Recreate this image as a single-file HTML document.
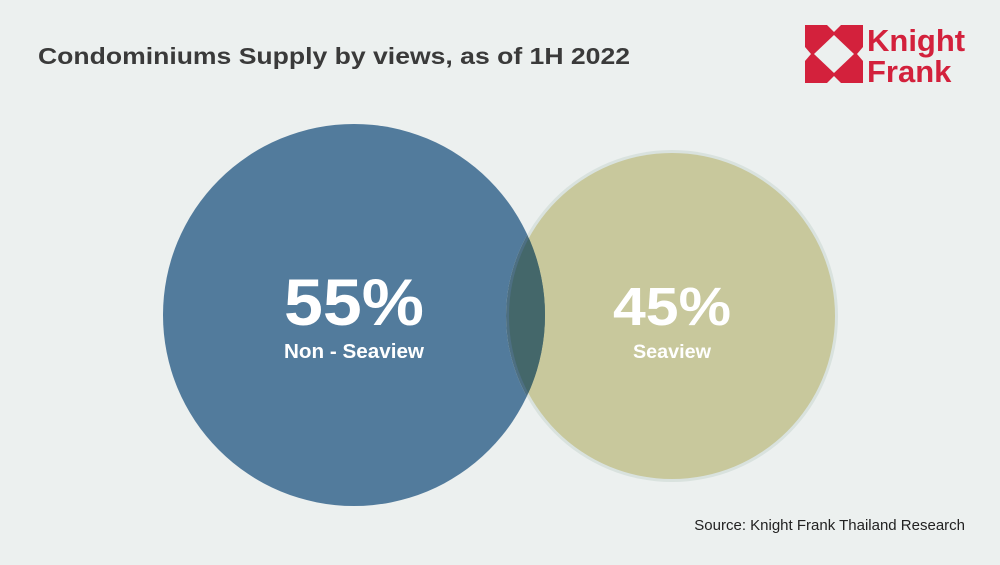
<!DOCTYPE html>
<html><head><meta charset="utf-8"><style>
html,body{margin:0;padding:0;background:#ecf0ef;}
svg{display:block;}
text{font-family:"Liberation Sans",sans-serif;}
</style></head><body>
<svg width="1000" height="565" viewBox="0 0 1000 565">
<rect width="1000" height="565" fill="#ecf0ef"/>
<text x="38" y="64" font-size="23" font-weight="bold" fill="#3a3a3a" textLength="592" lengthAdjust="spacingAndGlyphs">Condominiums Supply by views, as of 1H 2022</text>
<rect x="805" y="25" width="58" height="58" fill="#d3213c"/>
<g fill="#ecf0ef">
<polygon points="834,35 854,54 834,73 814,54"/>
<polygon points="827,25 841,25 834,32"/>
<polygon points="827,83 841,83 834,76"/>
<polygon points="805,47 805,61 811,54"/>
<polygon points="863,47 863,61 857,54"/>
</g>
<text x="867" y="51" font-size="31" font-weight="bold" fill="#d3213c">Knight</text>
<text x="867" y="82" font-size="31" font-weight="bold" fill="#d3213c">Frank</text>
<defs><clipPath id="c"><circle cx="354" cy="315" r="191"/></clipPath></defs>
<circle cx="354" cy="315" r="191" fill="#527b9c"/>
<circle cx="672" cy="316" r="166" fill="#d9e2de"/>
<circle cx="672" cy="316" r="163" fill="#c8c89c"/>
<g clip-path="url(#c)">
<circle cx="672" cy="316" r="166" fill="#4d6f82"/>
<circle cx="672" cy="316" r="163" fill="#44676a"/>
</g>
<text x="354" y="325" font-size="66" font-weight="bold" fill="#fff" text-anchor="middle" textLength="140" lengthAdjust="spacingAndGlyphs">55%</text>
<text x="354" y="358" font-size="20" font-weight="bold" fill="#fff" text-anchor="middle" textLength="140" lengthAdjust="spacingAndGlyphs">Non - Seaview</text>
<text x="672" y="325" font-size="54" font-weight="bold" fill="#fff" text-anchor="middle" textLength="118" lengthAdjust="spacingAndGlyphs">45%</text>
<text x="672" y="358" font-size="19" font-weight="bold" fill="#fff" text-anchor="middle" textLength="78" lengthAdjust="spacingAndGlyphs">Seaview</text>
<text x="965" y="530" font-size="15" fill="#222" text-anchor="end">Source: Knight Frank Thailand Research</text>
</svg>
</body></html>
